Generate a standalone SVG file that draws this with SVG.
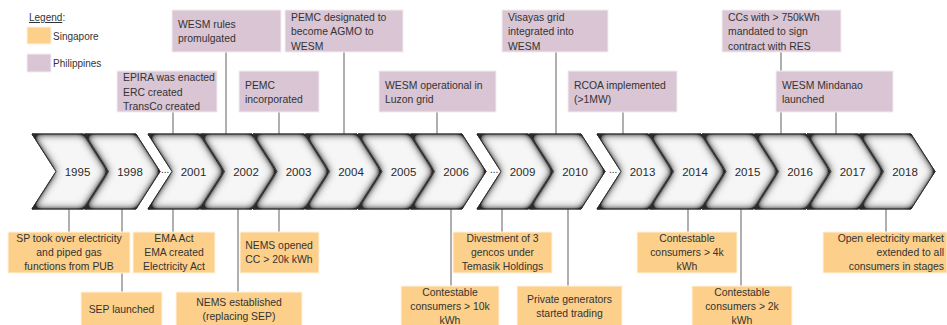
<svg xmlns="http://www.w3.org/2000/svg" width="947" height="325" viewBox="0 0 947 325">
  <style>
    text { font-family: "Liberation Sans", Arial, sans-serif; fill: #333333; }
    .t { font-size: 10.4px; }
    .yr { font-size: 11.5px; text-anchor: middle; fill: #2b2b2b; }
    .dots { font-size: 10px; fill: #2b2b2b; }
    .ph { fill: #d9c5d3; stroke: #f3edf1; stroke-width: 1; }
    .sg { fill: #fccf8a; stroke: #fff3df; stroke-width: 1; }
    .c { text-anchor: middle; }
    .r { text-anchor: end; }
    .chev { fill: #f6f6f6; stroke: #333333; stroke-width: 0.9; filter: url(#bevel); }
    .conn line { stroke: #858585; stroke-width: 1.3; }
    .leg { font-size: 10px; }
  </style>
  <defs>
    <!-- inner edge shading for the timeline arrows -->
    <filter id="bevel" x="-5%" y="-5%" width="110%" height="110%">
      <feGaussianBlur in="SourceAlpha" stdDeviation="4.5" result="blur"/>
      <feComposite in="SourceAlpha" in2="blur" operator="out" result="rim"/>
      <feComponentTransfer in="rim" result="rim2">
        <feFuncA type="linear" slope="2"/>
      </feComponentTransfer>
      <feFlood flood-color="#2a2a2a"/>
      <feComposite in2="rim2" operator="in" result="shade"/>
      <feMerge>
        <feMergeNode in="SourceGraphic"/>
        <feMergeNode in="shade"/>
      </feMerge>
    </filter>
    <path id="chevron" d="M0,134 L51.5,134 L75.5,171.5 L51.5,209 L0,209 L24,171.5 Z"/>
  </defs>

  <!-- legend -->
  <g id="legend">
    <text class="leg" x="29" y="21"><tspan text-decoration="underline">Legend</tspan>:</text>
    <rect class="sg" x="27" y="27" width="24" height="17"/>
    <text class="leg" x="53" y="40">Singapore</text>
    <rect class="ph" x="27" y="54" width="24" height="18"/>
    <text class="leg" x="53" y="67">Philippines</text>
  </g>

  <!-- connectors -->
  <g id="connectors" class="conn">
    <line x1="173" y1="112" x2="173" y2="134"/>
    <line x1="226" y1="52" x2="226" y2="134"/>
    <line x1="279" y1="112" x2="279" y2="134"/>
    <line x1="344" y1="52" x2="344" y2="134"/>
    <line x1="437" y1="112" x2="437" y2="134"/>
    <line x1="556" y1="52" x2="556" y2="134"/>
    <line x1="623" y1="112" x2="623" y2="134"/>
    <line x1="781" y1="52" x2="781" y2="134"/>
    <line x1="836" y1="112" x2="836" y2="134"/>

    <line x1="69" y1="209" x2="69" y2="232"/>
    <line x1="122" y1="209" x2="122" y2="292"/>
    <line x1="173" y1="209" x2="173" y2="232"/>
    <line x1="238" y1="209" x2="238" y2="292"/>
    <line x1="279" y1="209" x2="279" y2="232"/>
    <line x1="451" y1="209" x2="451" y2="286"/>
    <line x1="502" y1="209" x2="502" y2="232"/>
    <line x1="568" y1="209" x2="568" y2="286"/>
    <line x1="688" y1="209" x2="688" y2="232"/>
    <line x1="741" y1="209" x2="741" y2="286"/>
    <line x1="886" y1="209" x2="886" y2="232"/>
  </g>

  <!-- timeline chevrons -->
  <g id="y1995"><use href="#chevron" class="chev" x="32"/><text class="yr" x="77.5" y="175.5">1995</text></g>
  <g id="y1998"><use href="#chevron" class="chev" x="84.5"/><text class="yr" x="130" y="175.5">1998</text></g>
  <g id="y2001"><use href="#chevron" class="chev" x="148"/><text class="dots" x="161" y="173">...</text><text class="yr" x="193.5" y="175.5">2001</text></g>
  <g id="y2002"><use href="#chevron" class="chev" x="200.5"/><text class="yr" x="246" y="175.5">2002</text></g>
  <g id="y2003"><use href="#chevron" class="chev" x="253"/><text class="yr" x="298.5" y="175.5">2003</text></g>
  <g id="y2004"><use href="#chevron" class="chev" x="305.5"/><text class="yr" x="351" y="175.5">2004</text></g>
  <g id="y2005"><use href="#chevron" class="chev" x="358"/><text class="yr" x="403.5" y="175.5">2005</text></g>
  <g id="y2006"><use href="#chevron" class="chev" x="410.5"/><text class="yr" x="456" y="175.5">2006</text></g>
  <g id="y2009"><use href="#chevron" class="chev" x="477"/><text class="dots" x="490" y="173">...</text><text class="yr" x="522.5" y="175.5">2009</text></g>
  <g id="y2010"><use href="#chevron" class="chev" x="529.5"/><text class="yr" x="575" y="175.5">2010</text></g>
  <g id="y2013"><use href="#chevron" class="chev" x="597"/><text class="dots" x="609" y="173">...</text><text class="yr" x="642.5" y="175.5">2013</text></g>
  <g id="y2014"><use href="#chevron" class="chev" x="649.5"/><text class="yr" x="695" y="175.5">2014</text></g>
  <g id="y2015"><use href="#chevron" class="chev" x="702"/><text class="yr" x="747.5" y="175.5">2015</text></g>
  <g id="y2016"><use href="#chevron" class="chev" x="754.5"/><text class="yr" x="800" y="175.5">2016</text></g>
  <g id="y2017"><use href="#chevron" class="chev" x="807"/><text class="yr" x="852.5" y="175.5">2017</text></g>
  <g id="y2018"><use href="#chevron" class="chev" x="859.5"/><text class="yr" x="905" y="175.5">2018</text></g>

  <!-- Philippines events -->
  <g id="ph-epira">
    <rect class="ph" x="117" y="71" width="100" height="41"/>
    <text class="t" x="123" y="81">EPIRA was enacted</text>
    <text class="t" x="123" y="95.5">ERC created</text>
    <text class="t" x="123" y="110">TransCo created</text>
  </g>
  <g id="ph-wesm-rules">
    <rect class="ph" x="172" y="10" width="109" height="42"/>
    <text class="t" x="178" y="28">WESM rules</text>
    <text class="t" x="178" y="42">promulgated</text>
  </g>
  <g id="ph-pemc-inc">
    <rect class="ph" x="239" y="71" width="80" height="41"/>
    <text class="t" x="245" y="88.5">PEMC</text>
    <text class="t" x="245" y="102.5">incorporated</text>
  </g>
  <g id="ph-pemc-agmo">
    <rect class="ph" x="285" y="10" width="118" height="42"/>
    <text class="t" x="291" y="20.5">PEMC designated to</text>
    <text class="t" x="291" y="35">become AGMO to</text>
    <text class="t" x="291" y="49.5">WESM</text>
  </g>
  <g id="ph-wesm-luzon">
    <rect class="ph" x="379" y="71" width="117" height="41"/>
    <text class="t" x="385" y="88.5">WESM operational in</text>
    <text class="t" x="385" y="102.5">Luzon grid</text>
  </g>
  <g id="ph-visayas">
    <rect class="ph" x="502" y="10" width="106" height="42"/>
    <text class="t" x="508" y="20.5">Visayas grid</text>
    <text class="t" x="508" y="35">integrated into</text>
    <text class="t" x="508" y="49.5">WESM</text>
  </g>
  <g id="ph-rcoa">
    <rect class="ph" x="568" y="71" width="109" height="41"/>
    <text class="t" x="574" y="88.5">RCOA implemented</text>
    <text class="t" x="574" y="102.5">(&gt;1MW)</text>
  </g>
  <g id="ph-ccs">
    <rect class="ph" x="722" y="10" width="119" height="42"/>
    <text class="t" x="728" y="20.5">CCs with &gt; 750kWh</text>
    <text class="t" x="728" y="35">mandated to sign</text>
    <text class="t" x="728" y="49.5">contract with RES</text>
  </g>
  <g id="ph-mindanao">
    <rect class="ph" x="776" y="71" width="117" height="41"/>
    <text class="t" x="782" y="88.5">WESM Mindanao</text>
    <text class="t" x="782" y="102.5">launched</text>
  </g>

  <!-- Singapore events -->
  <g id="sg-sp">
    <rect class="sg" x="8" y="232" width="122" height="41"/>
    <text class="t c" x="69" y="242">SP took over electricity</text>
    <text class="t c" x="69" y="256">and piped gas</text>
    <text class="t c" x="69" y="270">functions from PUB</text>
  </g>
  <g id="sg-sep">
    <rect class="sg" x="81" y="292" width="81" height="40"/>
    <text class="t c" x="121.5" y="313">SEP launched</text>
  </g>
  <g id="sg-ema">
    <rect class="sg" x="133" y="232" width="82" height="41"/>
    <text class="t c" x="174" y="242">EMA Act</text>
    <text class="t c" x="174" y="256">EMA created</text>
    <text class="t c" x="174" y="270">Electricity Act</text>
  </g>
  <g id="sg-nems">
    <rect class="sg" x="176" y="292" width="126" height="40"/>
    <text class="t c" x="239" y="306">NEMS established</text>
    <text class="t c" x="239" y="320">(replacing SEP)</text>
  </g>
  <g id="sg-nems-open">
    <rect class="sg" x="240" y="232" width="79" height="41"/>
    <text class="t c" x="279" y="249">NEMS opened</text>
    <text class="t c" x="279" y="263">CC &gt; 20k kWh</text>
  </g>
  <g id="sg-10k">
    <rect class="sg" x="401" y="286" width="98" height="45"/>
    <text class="t c" x="450" y="295.5">Contestable</text>
    <text class="t c" x="450" y="310">consumers &gt; 10k</text>
    <text class="t c" x="450" y="324">kWh</text>
  </g>
  <g id="sg-divest">
    <rect class="sg" x="453" y="232" width="99" height="41"/>
    <text class="t c" x="502.5" y="242">Divestment of 3</text>
    <text class="t c" x="502.5" y="256">gencos under</text>
    <text class="t c" x="502.5" y="270">Temasik Holdings</text>
  </g>
  <g id="sg-private">
    <rect class="sg" x="517" y="286" width="105" height="45"/>
    <text class="t c" x="569.5" y="303">Private generators</text>
    <text class="t c" x="569.5" y="317">started trading</text>
  </g>
  <g id="sg-4k">
    <rect class="sg" x="637" y="232" width="100" height="41"/>
    <text class="t c" x="687" y="242">Contestable</text>
    <text class="t c" x="687" y="256">consumers &gt; 4k</text>
    <text class="t c" x="687" y="270">kWh</text>
  </g>
  <g id="sg-2k">
    <rect class="sg" x="692" y="286" width="100" height="45"/>
    <text class="t c" x="742" y="295.5">Contestable</text>
    <text class="t c" x="742" y="310">consumers &gt; 2k</text>
    <text class="t c" x="742" y="324">kWh</text>
  </g>
  <g id="sg-open">
    <rect class="sg" x="823" y="232" width="124" height="41"/>
    <text class="t r" x="944" y="242">Open electricity market</text>
    <text class="t r" x="944" y="256">extended to all</text>
    <text class="t r" x="944" y="270">consumers in stages</text>
  </g>
</svg>
